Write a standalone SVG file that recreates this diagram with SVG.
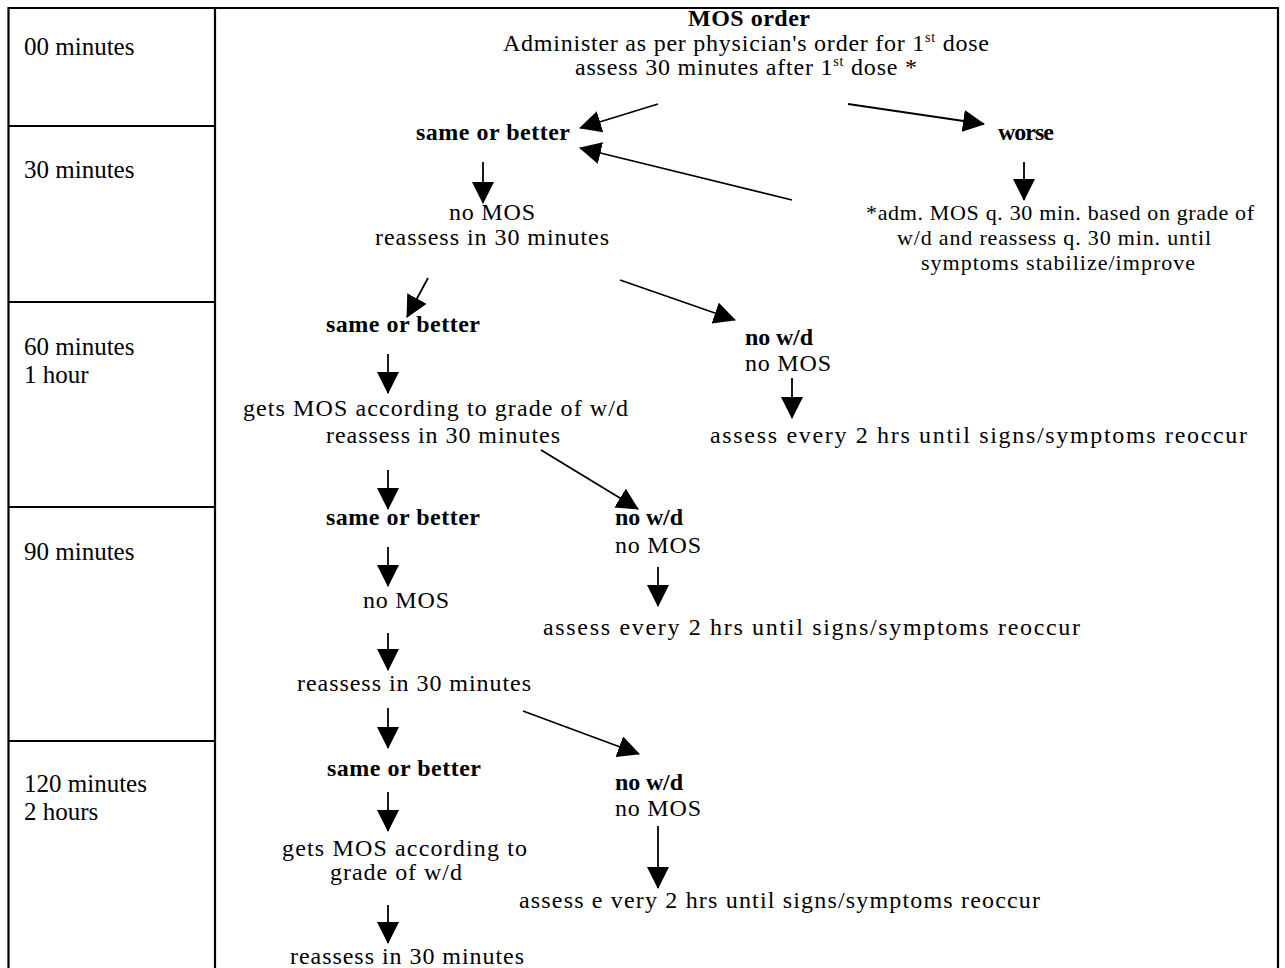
<svg xmlns="http://www.w3.org/2000/svg" width="1285" height="968" viewBox="0 0 1285 968">
<style>
.t{font-family:"Liberation Serif","Times New Roman",serif;font-size:24px;fill:#000}
.b{font-weight:bold}
.lab{font-size:25px}
.sm{font-size:22px}
.c{stroke:#000;stroke-width:1.8;fill:none;marker-end:url(#ah)}
.grid{stroke:#000;stroke-width:2.2;fill:none}
</style>
<defs>
<marker id="ah" markerUnits="userSpaceOnUse" markerWidth="22" markerHeight="22" viewBox="0 0 22 22" refX="21" refY="11" orient="auto">
<path d="M0,0 L22,11 L0,22 z" fill="#000"/>
</marker>
</defs>
<rect width="1285" height="968" fill="#fff"/>
<g id="table">
<path class="grid" d="M8.5,968 V8 H1278 V968 M215,8 V968 M8.5,126 H215 M8.5,302 H215 M8.5,507 H215 M8.5,741 H215"/>
</g>
<g id="times" class="t lab">
<text x="24" y="55">00 minutes</text>
<text x="24" y="178">30 minutes</text>
<text x="24" y="355">60 minutes</text>
<text x="24" y="383">1 hour</text>
<text x="24" y="560">90 minutes</text>
<text x="24" y="792">120 minutes</text>
<text x="24" y="820">2 hours</text>
</g>
<g id="connectors">
<line class="c" x1="658" y1="104" x2="580" y2="128"/>
<line class="c" x1="848" y1="104" x2="984" y2="124"/>
<line class="c" x1="1024" y1="162" x2="1024" y2="200"/>
<line class="c" x1="792" y1="200" x2="580" y2="148"/>
<line class="c" x1="483" y1="162" x2="483" y2="203"/>
<line class="c" x1="428" y1="278" x2="407" y2="317"/>
<line class="c" x1="620" y1="280" x2="735" y2="320"/>
<line class="c" x1="388" y1="354" x2="388" y2="393"/>
<line class="c" x1="792" y1="378" x2="792" y2="418"/>
<line class="c" x1="541" y1="450" x2="638" y2="509"/>
<line class="c" x1="388" y1="470" x2="388" y2="509"/>
<line class="c" x1="388" y1="547" x2="388" y2="586"/>
<line class="c" x1="658" y1="567" x2="658" y2="606"/>
<line class="c" x1="388" y1="633" x2="388" y2="670"/>
<line class="c" x1="523" y1="711" x2="639" y2="754"/>
<line class="c" x1="388" y1="708" x2="388" y2="748"/>
<line class="c" x1="388" y1="792" x2="388" y2="831"/>
<line class="c" x1="658" y1="826" x2="658" y2="888"/>
<line class="c" x1="388" y1="905" x2="388" y2="943"/>
</g>
<g id="n-order" class="t">
<text class="b" x="688" y="26" textLength="122" lengthAdjust="spacing">MOS order</text>
<text x="503" y="51" textLength="486" lengthAdjust="spacing">Administer as per physician's order for 1<tspan font-size="14" dy="-9">st</tspan><tspan dy="9"> dose</tspan></text>
<text x="575" y="75" textLength="342" lengthAdjust="spacing">assess 30 minutes after 1<tspan font-size="14" dy="-9">st</tspan><tspan dy="9"> dose *</tspan></text>
</g>
<g id="n-same1" class="t"><text class="b" x="416" y="140" textLength="154" lengthAdjust="spacing">same or better</text></g>
<g id="n-worse" class="t"><text class="b" x="998" y="140" textLength="56" lengthAdjust="spacing">worse</text></g>
<g id="n-nomos1" class="t">
<text x="449" y="220" textLength="86" lengthAdjust="spacing">no MOS</text>
<text x="375" y="245" textLength="234" lengthAdjust="spacing">reassess in 30 minutes</text>
</g>
<g id="n-adm" class="t sm">
<text x="866" y="220" textLength="388" lengthAdjust="spacing">*adm. MOS q. 30 min. based on grade of</text>
<text x="897" y="245" textLength="314" lengthAdjust="spacing">w/d and reassess q. 30 min. until</text>
<text x="921" y="270" textLength="274" lengthAdjust="spacing">symptoms stabilize/improve</text>
</g>
<g id="n-same2" class="t"><text class="b" x="326" y="332" textLength="154" lengthAdjust="spacing">same or better</text></g>
<g id="n-gets1" class="t">
<text x="243" y="416" textLength="385" lengthAdjust="spacing">gets MOS according to grade of w/d</text>
<text x="326" y="443" textLength="234" lengthAdjust="spacing">reassess in 30 minutes</text>
</g>
<g id="n-nowd1" class="t">
<text class="b" x="745" y="345" textLength="68" lengthAdjust="spacing">no w/d</text>
<text x="745" y="371" textLength="86" lengthAdjust="spacing">no MOS</text>
</g>
<g id="n-assess1" class="t"><text x="710" y="443" textLength="537" lengthAdjust="spacing">assess every 2 hrs until signs/symptoms reoccur</text></g>
<g id="n-same3" class="t"><text class="b" x="326" y="525" textLength="154" lengthAdjust="spacing">same or better</text></g>
<g id="n-nowd2" class="t">
<text class="b" x="615" y="525" textLength="68" lengthAdjust="spacing">no w/d</text>
<text x="615" y="553" textLength="86" lengthAdjust="spacing">no MOS</text>
</g>
<g id="n-nomos2" class="t"><text x="363" y="608" textLength="86" lengthAdjust="spacing">no MOS</text></g>
<g id="n-assess2" class="t"><text x="543" y="635" textLength="537" lengthAdjust="spacing">assess every 2 hrs until signs/symptoms reoccur</text></g>
<g id="n-reassess2" class="t"><text x="297" y="691" textLength="234" lengthAdjust="spacing">reassess in 30 minutes</text></g>
<g id="n-same4" class="t"><text class="b" x="327" y="776" textLength="154" lengthAdjust="spacing">same or better</text></g>
<g id="n-nowd3" class="t">
<text class="b" x="615" y="790" textLength="68" lengthAdjust="spacing">no w/d</text>
<text x="615" y="816" textLength="86" lengthAdjust="spacing">no MOS</text>
</g>
<g id="n-gets2" class="t">
<text x="282" y="856" textLength="245" lengthAdjust="spacing">gets MOS according to</text>
<text x="330" y="880" textLength="132" lengthAdjust="spacing">grade of w/d</text>
</g>
<g id="n-assess3" class="t"><text x="519" y="908" textLength="521" lengthAdjust="spacing">assess e very 2 hrs until signs/symptoms reoccur</text></g>
<g id="n-reassess3" class="t"><text x="290" y="964" textLength="234" lengthAdjust="spacing">reassess in 30 minutes</text></g>
</svg>
